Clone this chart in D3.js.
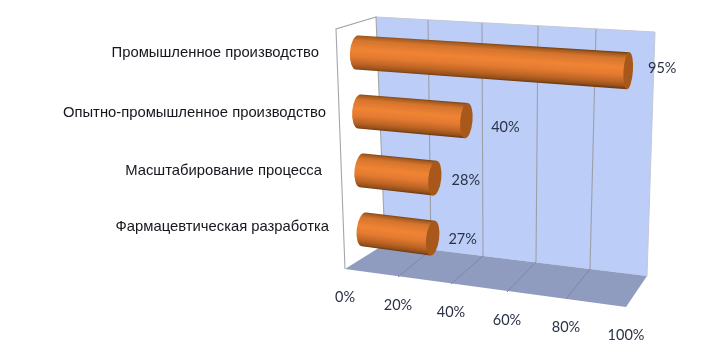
<!DOCTYPE html>
<html><head><meta charset="utf-8">
<script src="https://cdn.jsdelivr.net/npm/d3@7"></script>
<style>html,body{margin:0;padding:0;background:#fff}svg{display:block}</style>
</head><body><svg id="c" width="705" height="353"></svg>
<script>
// Data
const categories = ["Промышленное производство","Опытно-промышленное производство","Масштабирование процесса","Фармацевтическая разработка"];
const values = [95,40,28,27];
const tickValues = [0,20,40,60,80,100];
const tickLabels = ["0%","20%","40%","60%","80%","100%"];

// Layout: the perspective box, sampled at each tick
const backTopX = [376,428,482,538,596,655], backTopY = [17,20,23,26,29,32];
const backBotX = [385,431,483,536,590,647], backBotY = [244,250,256,262,269,276];
const frontBotX = [345,398,451,507,566,626], frontBotY = [269,277,284,292,299,307];
const frontTopX = [336,396,450,509,570,634], frontTopY = [29,33,36,40,44,48];
const labelEndX = [319,326,322,329], labelDY = [-0.4,0.5,-0.3,-3.4];
const valueNudgeX = [34,39,31,30], valueNudgeY = [-3,6,2,1];

const s = a => d3.scaleLinear().domain(tickValues).range(a);
const bt = [s(backTopX),s(backTopY)], bb=[s(backBotX),s(backBotY)], fb=[s(frontBotX),s(frontBotY)], ft=[s(frontTopX),s(frontTopY)];
const heightScale = d3.scaleBand().domain(categories).range([0,1.01]);
const radius = d3.scaleLinear().domain([0,100]).range([17,18.7]);
const capRx = d3.scaleLinear().domain([0,100]).range([7.2,4.6]);
const lerp = (a,b,t)=>a+(b-a)*t;
function project(v,h,d){ // value, height fraction from top, depth 0 back → 1 front
  return [0,1].map(k=>lerp(lerp(bt[k](v),bb[k](v),h),lerp(ft[k](v),fb[k](v),h),d));
}
const svg = d3.select("#c");
const defs = svg.append("defs");
defs.append("filter").attr("id","soft").append("feGaussianBlur").attr("stdDeviation",0.45);
const g = svg.append("g").attr("filter","url(#soft)");

const poly = pts => "M"+pts.map(p=>p.join(",")).join("L")+"Z";
const P = (sc,v)=>[sc[0](v),sc[1](v)];
// walls + floor
g.append("path").attr("d",poly([P(bt,0),P(bt,100),P(bb,100),P(bb,0)])).attr("fill","#bccdf8");
g.append("path").attr("d",poly([P(bb,0),P(bb,100),P(fb,100),P(fb,0)])).attr("fill","#8f9cc0");
// gridlines
g.selectAll(".gw").data(tickValues.slice(1,-1)).join("line")
 .attr("x1",v=>bt[0](v)).attr("y1",v=>bt[1](v)).attr("x2",v=>bb[0](v)).attr("y2",v=>bb[1](v))
 .attr("stroke","#9c9fa8").attr("stroke-width",1.1);
g.selectAll(".gf").data(tickValues.slice(1,-1)).join("line")
 .attr("x1",v=>bb[0](v)).attr("y1",v=>bb[1](v)).attr("x2",v=>fb[0](v)).attr("y2",v=>fb[1](v))
 .attr("stroke","#7d88a6").attr("stroke-width",1);
// wall edges
g.append("path").attr("d","M"+P(bb,100)+"L"+P(bt,100)+"L"+P(bt,0)).attr("fill","none").attr("stroke","#c3c8d4").attr("stroke-width",1);
g.append("path").attr("d","M"+P(bb,0)+"L"+P(bt,0)+"L"+P(ft,0)+"L"+P(fb,0)).attr("fill","none").attr("stroke","#a3a5aa").attr("stroke-width",1.1);

// cylinders
categories.forEach((c,i)=>{
  const h = heightScale(c)+heightScale.bandwidth()/2, v = values[i];
  const a = project(0,h,0.5), b = project(v,h,0.5);
  const ang = Math.atan2(b[1]-a[1],b[0]-a[0]);
  const nx = -Math.sin(ang), ny = Math.cos(ang);
  const ra = radius(0), rb = radius(v), rxa = capRx(0), rxb = capRx(v);
  const deg = ang*180/Math.PI;
  const id = "cyl"+i, mx=(a[0]+b[0])/2, my=(a[1]+b[1])/2, r=(ra+rb)/2;
  const gr = defs.append("linearGradient").attr("id",id).attr("gradientUnits","userSpaceOnUse")
    .attr("x1",mx-nx*r).attr("y1",my-ny*r).attr("x2",mx+nx*r).attr("y2",my+ny*r);
  [[0,"#7c4316"],[.05,"#a75c20"],[.16,"#d5742d"],[.42,"#f08434"],[.62,"#e37a30"],[.82,"#bd6425"],[.94,"#96511b"],[1,"#6e3a12"]]
    .forEach(([o,col])=>gr.append("stop").attr("offset",o).attr("stop-color",col));
  const lt=[a[0]-nx*ra,a[1]-ny*ra], lb=[a[0]+nx*ra,a[1]+ny*ra], rt=[b[0]-nx*rb,b[1]-ny*rb], rbm=[b[0]+nx*rb,b[1]+ny*rb];
  g.append("path").attr("d",`M${lt}L${rt}L${rbm}L${lb}A${rxa},${ra} ${deg} 0 1 ${lt}Z`).attr("fill",`url(#${id})`);
  g.append("ellipse").attr("cx",b[0]).attr("cy",b[1]).attr("rx",rxb).attr("ry",rb)
    .attr("transform",`rotate(${deg} ${b[0]} ${b[1]})`).attr("fill","#a9591e");
  g.append("text").attr("x",b[0]+valueNudgeX[i]).attr("y",b[1]+valueNudgeY[i]).attr("text-anchor","middle").attr("dy","0.35em")
    .attr("font-family","Lato").attr("font-size",14.5).attr("fill","#2b3245").text(v+"%");
  g.append("text").attr("x",labelEndX[i]).attr("y",a[1]+labelDY[i]).attr("text-anchor","end").attr("dy","0.35em")
    .attr("font-family","'Liberation Sans'").attr("font-size",14.8).attr("fill","#15151c").text(c);
});
// tick labels
g.selectAll(".tk").data(tickValues).join("text")
 .attr("x",v=>fb[0](v)).attr("y",v=>fb[1](v)+28).attr("dy","0.35em").attr("text-anchor","middle")
 .attr("font-family","Lato").attr("font-size",14.5).attr("fill","#2b3245").text((v,i)=>tickLabels[i]);
</script></body></html>
